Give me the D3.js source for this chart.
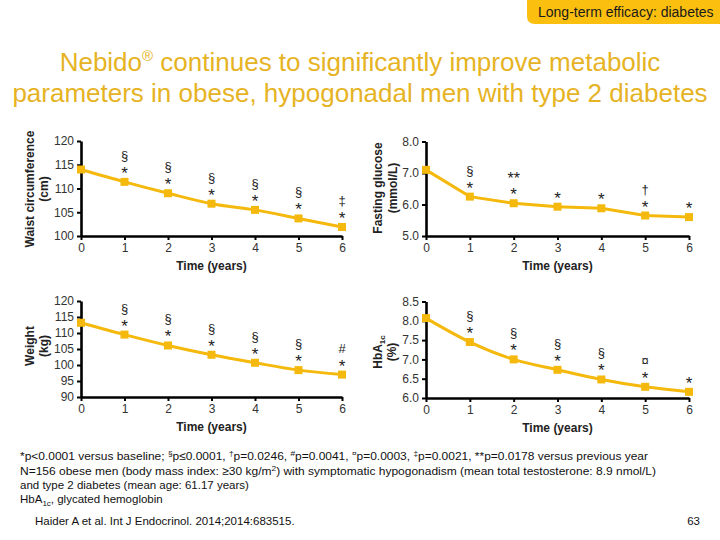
<!DOCTYPE html>
<html>
<head>
<meta charset="utf-8">
<script src="https://cdn.jsdelivr.net/npm/d3@7"></script>
<style>
  body { margin: 0; background: #fff; }
  text { font-family: Arial, "Liberation Sans", sans-serif; }
</style>
</head>
<body>
<div id="chart"></div>
<script>
// values
const years = [0, 1, 2, 3, 4, 5, 6];
const waist = [114.0, 111.4, 109.0, 106.8, 105.5, 103.7, 101.9];
const glucose = [7.1, 6.25, 6.04, 5.93, 5.88, 5.65, 5.6];
const weight = [113.2, 109.5, 106.1, 103.2, 100.7, 98.4, 97.0];
const hba1c = [8.07, 7.45, 7.0, 6.73, 6.48, 6.29, 6.16];

// significance marks (upper symbol, then star under it)
const waistUpper = ["", "§", "§", "§", "§", "§", "‡"];
const glucoseUpper = ["", "§", "**", "", "", "†", ""];
const weightUpper = ["", "§", "§", "§", "§", "§", "#"];
const hba1cUpper = ["", "§", "§", "§", "§", "¤", ""];
const stars = ["", "*", "*", "*", "*", "*", "*"];

const waistTicks = [100, 105, 110, 115, 120];
const glucoseTicks = [5, 6, 7, 8];
const weightTicks = [90, 95, 100, 105, 110, 115, 120];
const hba1cTicks = [6, 6.5, 7, 7.5, 8, 8.5];

const W = 720, H = 540;
const gold = "#F4B90C";

const svg = d3.select("#chart").append("svg")
  .attr("width", W).attr("height", H);

// header tab
svg.append("path")
  .attr("d", "M527,0 H720 V24 H535 Q527,24 527,16 Z")
  .attr("fill", "#FBBF10");
svg.append("text")
  .attr("x", 538).attr("y", 17)
  .style("font-size", "14px").style("fill", "#1a1a1a")
  .text("Long-term efficacy: diabetes");

// title
const t1 = svg.append("text")
  .attr("x", 360).attr("y", 71)
  .attr("text-anchor", "middle")
  .style("font-size", "26px").style("fill", "#E6B324");
t1.append("tspan").text("Nebido");
t1.append("tspan").attr("dy", -10).style("font-size", "15px").text("®");
t1.append("tspan").attr("dy", 10).text(" continues to significantly improve metabolic");
svg.append("text")
  .attr("x", 360).attr("y", 102)
  .attr("text-anchor", "middle")
  .style("font-size", "26px").style("fill", "#E6B324")
  .text("parameters in obese, hypogonadal men with type 2 diabetes");

function panel(cfg) {
  const x = d3.scaleLinear().domain([0, 6]).range([cfg.x0, cfg.x1]);
  const y = d3.scaleLinear().domain(cfg.domain).range([cfg.yb, cfg.yt]);
  const g = svg.append("g");

  const ya = g.append("g")
    .attr("transform", `translate(${cfg.x0},0)`)
    .call(d3.axisLeft(y).tickValues(cfg.ticks).tickSize(4).tickSizeOuter(0).tickFormat(cfg.fmt));
  const xa = g.append("g")
    .attr("transform", `translate(0,${cfg.yb})`)
    .call(d3.axisBottom(x).tickValues(years).tickSize(4).tickSizeOuter(0).tickFormat(d3.format("d")));
  [ya, xa].forEach((a) => {
    a.select(".domain").attr("stroke", "#000").attr("stroke-width", 2.6);
    a.selectAll(".tick line").attr("stroke", "#000").attr("stroke-width", 2);
    a.selectAll(".tick text").style("font-size", "12px").style("fill", "#333")
      .style("font-family", "Arial, 'Liberation Sans', sans-serif");
  });

  const line = d3.line()
    .x((d, i) => x(years[i]))
    .y((d) => y(d))
    .curve(cfg.curve);
  g.append("path")
    .datum(cfg.values)
    .attr("d", line)
    .attr("fill", "none")
    .attr("stroke", gold)
    .attr("stroke-width", 3);

  g.selectAll("rect.pt")
    .data(cfg.values)
    .join("rect")
    .attr("class", "pt")
    .attr("x", (d, i) => x(years[i]) - 4)
    .attr("y", (d) => y(d) - 4)
    .attr("width", 8).attr("height", 8)
    .attr("fill", gold);

  g.selectAll("text.star")
    .data(cfg.values)
    .join("text")
    .attr("class", "star")
    .attr("x", (d, i) => x(years[i]))
    .attr("y", (d) => y(d) - 3)
    .attr("text-anchor", "middle")
    .style("font-size", "17px").style("fill", "#222")
    .text((d, i) => stars[i]);

  // "**" is drawn at star size, the other symbols a bit smaller
  g.selectAll("text.up")
    .data(cfg.values)
    .join("text")
    .attr("class", "up")
    .attr("x", (d, i) => x(years[i]))
    .attr("y", (d, i) => y(d) - (cfg.upper[i] === "**" ? 19 : 22))
    .attr("text-anchor", "middle")
    .style("font-size", (d, i) => (cfg.upper[i] === "**" ? "16px" : "13px"))
    .style("fill", "#222")
    .text((d, i) => cfg.upper[i]);

  g.append("text")
    .attr("x", (cfg.x0 + cfg.x1) / 2).attr("y", cfg.yb + 34)
    .attr("text-anchor", "middle")
    .style("font-size", "12px").style("font-weight", "bold").style("fill", "#222")
    .text("Time (years)");

  cfg.titles.forEach((parts, k) => {
    const tt = g.append("text")
      .attr("transform", `translate(${cfg.titleX[k]},${cfg.titleY}) rotate(-90)`)
      .attr("text-anchor", "middle")
      .style("font-size", "12px").style("font-weight", "bold").style("fill", "#222");
    parts.forEach((p) => {
      if (p.sub) {
        tt.append("tspan").attr("dy", 3).style("font-size", "8px").text(p.t);
      } else {
        tt.append("tspan").text(p.t);
      }
    });
  });
}

panel({
  values: waist, upper: waistUpper, domain: [100, 120], ticks: waistTicks, fmt: d3.format("d"),
  x0: 81, x1: 342, yt: 141, yb: 236, curve: d3.curveMonotoneX,
  titles: [[{ t: "Waist circumference" }], [{ t: "(cm)" }]], titleX: [34, 48], titleY: 189
});
panel({
  values: glucose, upper: glucoseUpper, domain: [5, 8], ticks: glucoseTicks, fmt: d3.format(".1f"),
  x0: 426, x1: 689, yt: 141.5, yb: 236, curve: d3.curveLinear,
  titles: [[{ t: "Fasting glucose" }], [{ t: "(mmol/L)" }]], titleX: [382, 397], titleY: 188
});
panel({
  values: weight, upper: weightUpper, domain: [90, 120], ticks: weightTicks, fmt: d3.format("d"),
  x0: 81, x1: 342, yt: 301, yb: 397, curve: d3.curveMonotoneX,
  titles: [[{ t: "Weight" }], [{ t: "(kg)" }]], titleX: [34, 48], titleY: 346
});
panel({
  values: hba1c, upper: hba1cUpper, domain: [6, 8.5], ticks: hba1cTicks, fmt: d3.format(".1f"),
  x0: 426, x1: 689, yt: 301.5, yb: 398, curve: d3.curveMonotoneX,
  titles: [[{ t: "HbA" }, { t: "1c", sub: true }], [{ t: "(%)" }]], titleX: [382, 396], titleY: 352
});

// footnotes: shifts are carried to the next piece so the baseline comes back
function note(x, y, parts, len) {
  const t = svg.append("text")
    .attr("x", x).attr("y", y)
    .style("font-size", "11.5px").style("fill", "#111");
  let shift = 0;
  parts.forEach((p) => {
    const target = p.sup ? -4 : p.sub ? 3 : 0;
    const sp = t.append("tspan").attr("dy", target - shift).text(p.t);
    if (p.sup || p.sub) sp.style("font-size", "8px");
    shift = target;
  });
  if (len) t.attr("textLength", len).attr("lengthAdjust", "spacingAndGlyphs");
  return t;
}

note(20, 460, [
  { t: "*p<0.0001 versus baseline; " }, { t: "§", sup: true }, { t: "p≤0.0001, " },
  { t: "†", sup: true }, { t: "p=0.0246, " }, { t: "#", sup: true }, { t: "p=0.0041, " },
  { t: "¤", sup: true }, { t: "p=0.0003, " }, { t: "‡", sup: true }, { t: "p=0.0021, " },
  { t: "**p=0.0178 versus previous year" }
], 628);
note(20, 475, [
  { t: "N=156 obese men (body mass index: ≥30 kg/m" }, { t: "2", sup: true },
  { t: ") with symptomatic hypogonadism (mean total testosterone: 8.9 nmol/L)" }
], 636);
note(20, 489, [{ t: "and type 2 diabetes (mean age: 61.17 years)" }]);
note(20, 503, [{ t: "HbA" }, { t: "1c", sub: true }, { t: ", glycated hemoglobin" }]);
note(35, 525, [{ t: "Haider A et al. Int J Endocrinol. 2014;2014:683515." }]);

svg.append("text")
  .attr("x", 700).attr("y", 525)
  .attr("text-anchor", "end")
  .style("font-size", "11.5px").style("fill", "#111")
  .text("63");
</script>
</body>
</html>
